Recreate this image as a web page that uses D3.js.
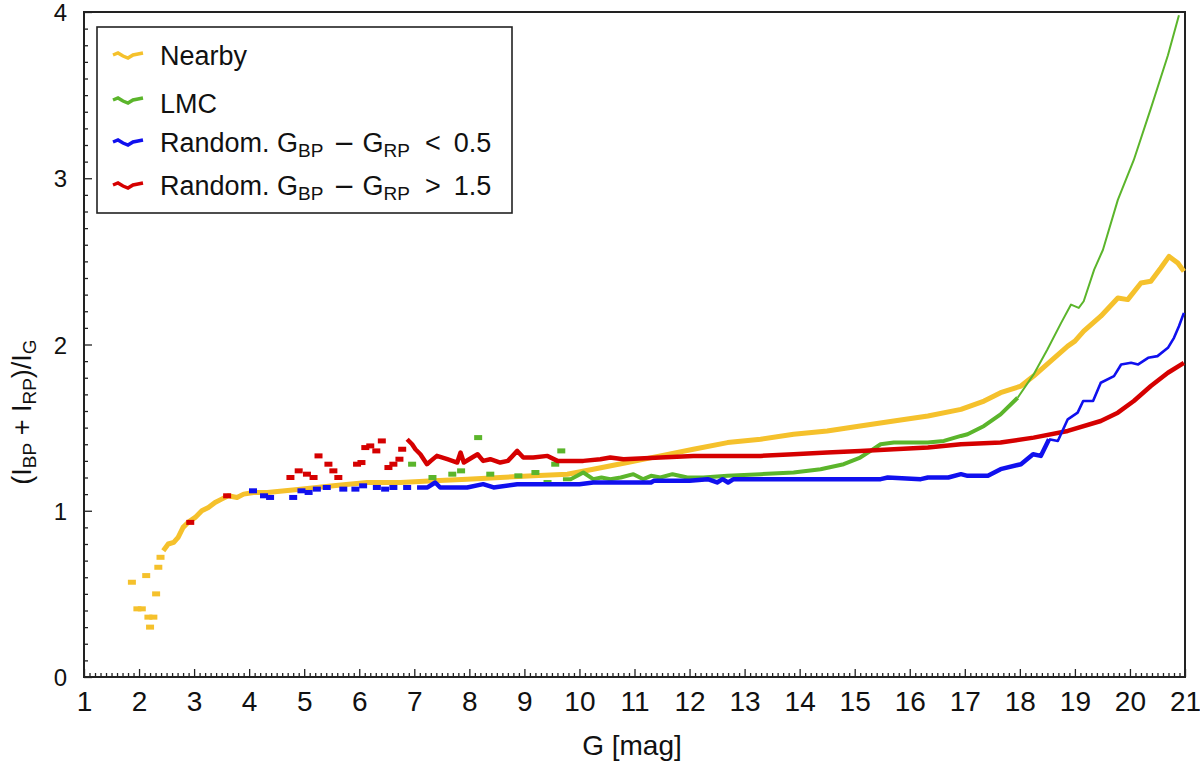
<!DOCTYPE html>
<html><head><meta charset="utf-8">
<script src="https://cdn.jsdelivr.net/npm/d3@7/dist/d3.min.js"></script>
<style>
html,body{margin:0;padding:0;background:#fff;}
svg text{font-family:"Liberation Sans","Open Sans",sans-serif;fill:#111;}
</style></head>
<body><svg id="c" width="1200" height="766"></svg>
<script>
// ---------- data ----------
const xTickLabels = ["1","2","3","4","5","6","7","8","9","10","11","12","13","14","15","16","17","18","19","20","21"];
const yTickLabels = ["0","1","2","3","4"];
const seriesNames = ["Nearby","LMC","Random. G_BP \u2212 G_RP \u2009<\u2009 0.5","Random. G_BP \u2212 G_RP \u2009>\u2009 1.5"];

// Nearby (yellow)
const nearbyDotG = [1.87,1.97,2.05,2.13,2.17,2.26,2.20,2.31,2.35,2.39];
const nearbyDotV = [0.57,0.41,0.41,0.61,0.36,0.36,0.30,0.50,0.66,0.72];
const nearbyG = [2.44,2.53,2.63,2.71,2.80,2.89,3.02,3.14,3.26,3.38,3.50,3.62,3.78,3.90,4.08,4.33,4.93,5.53,6.14,6.75,7.35,7.96,8.56,9.16,9.78,10.25,10.87,11.47,12.07,12.69,13.29,13.89,14.50,15.10,15.71,16.33,16.93,17.35,17.65,18.02,18.25,18.56,18.87,19.00,19.16,19.47,19.78,19.96,20.20,20.38,20.56,20.71,20.87,20.98];
const nearbyV = [0.76,0.80,0.81,0.84,0.90,0.93,0.96,1.00,1.02,1.05,1.07,1.09,1.08,1.10,1.11,1.11,1.13,1.15,1.17,1.17,1.18,1.19,1.20,1.21,1.22,1.25,1.29,1.33,1.37,1.41,1.43,1.46,1.48,1.51,1.54,1.57,1.61,1.66,1.71,1.75,1.81,1.90,1.99,2.02,2.08,2.17,2.28,2.27,2.37,2.38,2.46,2.53,2.49,2.44];

// LMC (green)
const lmcDotG = [6.96,7.33,7.69,7.85,8.16,8.38,8.89,9.20,9.42,9.56,9.67];
const lmcDotV = [1.28,1.20,1.22,1.24,1.44,1.22,1.21,1.23,1.17,1.28,1.36];
const lmcG = [9.70,9.84,9.96,10.07,10.25,10.40,10.56,10.75,10.98,11.16,11.30,11.47,11.69,11.96,12.25,12.69,13.29,13.89,14.38,14.80,15.10,15.29,15.47,15.71,16.33,16.62,16.93,17.05,17.35,17.65,17.96,18.25,18.50,18.75,18.93,19.07,19.16,19.35,19.51,19.78,20.07,20.38,20.69,20.89];
const lmcV = [1.19,1.19,1.21,1.23,1.19,1.20,1.19,1.20,1.22,1.19,1.21,1.20,1.22,1.20,1.20,1.21,1.22,1.23,1.25,1.28,1.32,1.36,1.40,1.41,1.41,1.42,1.45,1.46,1.51,1.58,1.68,1.82,1.97,2.13,2.24,2.22,2.26,2.45,2.57,2.87,3.11,3.42,3.74,3.98];

// Random, G_BP - G_RP < 0.5 (blue)
const blueDotG = [4.07,4.27,4.38,4.80,4.95,5.08,5.23,5.41,5.71,5.93,6.07,6.32,6.47,6.62,6.87];
const blueDotV = [1.12,1.09,1.08,1.08,1.12,1.11,1.13,1.14,1.13,1.13,1.15,1.14,1.13,1.14,1.14];
const blueG = [7.05,7.24,7.38,7.47,7.70,7.96,8.25,8.44,8.87,9.20,9.65,10.00,10.25,11.00,11.30,11.35,12.00,12.33,12.50,12.60,12.70,12.80,13.50,14.50,15.47,15.60,16.20,16.33,16.70,16.93,17.05,17.42,17.65,18.02,18.24,18.38,18.47,18.53,18.69,18.87,19.05,19.15,19.33,19.47,19.71,19.84,20.02,20.15,20.33,20.50,20.69,20.80,20.89,20.98];
const blueV = [1.14,1.14,1.17,1.14,1.14,1.14,1.16,1.14,1.16,1.16,1.16,1.16,1.17,1.17,1.17,1.18,1.18,1.19,1.17,1.19,1.17,1.19,1.19,1.19,1.19,1.20,1.19,1.20,1.20,1.22,1.21,1.21,1.25,1.28,1.34,1.33,1.39,1.43,1.42,1.55,1.59,1.66,1.66,1.77,1.81,1.88,1.89,1.88,1.92,1.93,1.98,2.04,2.11,2.19];

// Random, G_BP - G_RP > 1.5 (red)
const redDotG = [2.93,3.60,4.75,4.90,5.05,5.17,5.26,5.44,5.53,5.62,5.96,6.04,6.11,6.20,6.31,6.41,6.53,6.62,6.73,6.78];
const redDotV = [0.93,1.09,1.20,1.24,1.22,1.20,1.33,1.28,1.24,1.20,1.28,1.29,1.38,1.39,1.36,1.42,1.26,1.28,1.31,1.37];
const redG = [6.87,6.96,7.02,7.11,7.23,7.30,7.41,7.60,7.78,7.84,7.90,8.05,8.15,8.25,8.38,8.56,8.70,8.87,8.98,9.16,9.42,9.60,9.78,10.07,10.38,10.56,10.80,11.47,12.07,12.69,13.29,13.89,14.50,15.10,15.71,16.33,16.93,17.65,18.25,18.87,19.47,19.78,20.07,20.38,20.69,20.98];
const redV = [1.43,1.40,1.37,1.34,1.28,1.30,1.33,1.31,1.29,1.35,1.29,1.32,1.34,1.30,1.31,1.29,1.30,1.36,1.32,1.32,1.33,1.30,1.30,1.30,1.31,1.32,1.31,1.32,1.33,1.33,1.33,1.34,1.35,1.36,1.37,1.38,1.40,1.41,1.44,1.48,1.54,1.59,1.66,1.75,1.83,1.89];

// ---------- layout ----------
const svg = d3.select("#c");
const L = 84, R = 1185, T = 12, B = 677;
const x = d3.scaleLinear().domain([1, 21]).range([L, R]);
const y = d3.scaleLinear().domain([0, 4]).range([B, T]);
const colors = {nearby:"#f5c12c", lmc:"#5bb52b", blue:"#1010ee", red:"#d50000"};

// axes: minor ticks
const xMinor = d3.range(10, 211).map(d => d / 10).filter(d => Math.abs(d - Math.round(d)) > 1e-6);
const yMinor = d3.range(0, 41).map(d => d / 10).filter(d => Math.abs(d - Math.round(d)) > 1e-6);

const narrow = "'Liberation Sans Narrow','Liberation Sans',sans-serif";
const gx = svg.append("g").attr("transform", `translate(0,${B})`);
gx.call(d3.axisBottom(x).tickValues(xMinor).tickSize(-4).tickFormat(""));
gx.append("g").call(d3.axisBottom(x).tickValues(xTickLabels.map(Number)).tickSize(-8).tickFormat((d,i)=>xTickLabels[i]).tickPadding(14));
gx.selectAll("path.domain").remove();
gx.selectAll("line").attr("stroke", "#222").attr("stroke-width", 1.3);
gx.selectAll("text").attr("font-size", 28).attr("fill", "#111").style("font-family", narrow).attr("dy", "0.72em");

const gy = svg.append("g").attr("transform", `translate(${L},0)`);
gy.call(d3.axisLeft(y).tickValues(yMinor).tickSize(-4).tickFormat(""));
gy.append("g").call(d3.axisLeft(y).tickValues(yTickLabels.map(Number)).tickSize(-8).tickFormat((d,i)=>yTickLabels[i]).tickPadding(17));
gy.selectAll("path.domain").remove();
gy.selectAll("line").attr("stroke", "#222").attr("stroke-width", 1.3);
gy.selectAll("text").attr("font-size", 24).attr("fill", "#111").attr("dy", "0.36em");

// frame
svg.append("rect").attr("x", L).attr("y", T).attr("width", R - L).attr("height", B - T)
  .attr("fill", "none").attr("stroke", "#222").attr("stroke-width", 2);

// ---------- marks ----------
const plot = svg.append("g");
const line = d3.line().x(d => x(d[0])).y(d => y(d[1]));
const zip = (a, b) => a.map((g, i) => [g, b[i]]);

function drawSeries(dotG, dotV, G, V, col, w, thinFrom, thinW) {
  const g = plot.append("g");
  const pts = zip(G, V);
  let k = pts.length;
  if (thinFrom) { k = pts.findIndex(p => p[0] > thinFrom); if (k < 0) k = pts.length; }
  const thick = pts.slice(0, k);
  g.append("path").attr("d", line(thick)).attr("fill", "none").attr("stroke", col)
    .attr("stroke-width", w).attr("stroke-linejoin", "round");
  if (k < pts.length) {
    const thin = pts.slice(Math.max(k - 1, 0));
    g.append("path").attr("d", line(thin)).attr("fill", "none").attr("stroke", col)
      .attr("stroke-width", thinW).attr("stroke-linejoin", "round");
  }
  g.selectAll("rect").data(zip(dotG, dotV)).join("rect")
    .attr("x", d => x(d[0]) - 4).attr("y", d => y(d[1]) - 2.5)
    .attr("width", 8).attr("height", 5).attr("fill", col);
}
drawSeries(nearbyDotG, nearbyDotV, nearbyG, nearbyV, colors.nearby, 5, null, 0);
drawSeries(lmcDotG, lmcDotV, lmcG, lmcV, colors.lmc, 4, 17.96, 2);
drawSeries(redDotG, redDotV, redG, redV, colors.red, 4.5, null, 0);
drawSeries(blueDotG, blueDotV, blueG, blueV, colors.blue, 4.5, 18.53, 2.6);

// ---------- legend ----------
const lg = svg.append("g");
lg.append("rect").attr("x", 97).attr("y", 27).attr("width", 415).attr("height", 186)
  .attr("fill", "#fff").attr("stroke", "#222").attr("stroke-width", 1.6);
const wave = [[0,0],[5,-2],[10,1],[15,3],[20,0],[25,-1],[30,-2]];
const legRows = [
  {c: colors.nearby, ly: 55, ty: 65},
  {c: colors.lmc, ly: 100, ty: 113},
  {c: colors.blue, ly: 142, ty: 152},
  {c: colors.red, ly: 185, ty: 195}
];
const wline = d3.line().x(d => d[0]).y(d => d[1]);
legRows.forEach((r, i) => {
  lg.append("path").attr("d", wline(wave)).attr("transform", `translate(113,${r.ly})`)
    .attr("fill", "none").attr("stroke", r.c).attr("stroke-width", 3.5);
  const t = lg.append("text").attr("x", 160).attr("y", r.ty).attr("font-size", 27);
  const name = seriesNames[i];
  const parts = name.split(/(_BP|_RP|\u2212)/);
  parts.forEach(p => {
    if (p === "_BP" || p === "_RP") {
      t.append("tspan").text(p.slice(1)).attr("font-size", 19).attr("dy", 5);
      t.append("tspan").text("\u200A").attr("dy", -5);
    } else if (p === "\u2212") {
      t.append("tspan").text(p).style("font-family", "'DejaVu Sans',sans-serif").attr("font-size", 26);
    } else {
      t.append("tspan").text(p);
    }
  });
});

// ---------- axis titles ----------
svg.append("text").attr("x", 632).attr("y", 755).attr("text-anchor", "middle")
  .attr("font-size", 28).style("font-family", narrow).text("G [mag]");

const yl = svg.append("text").attr("transform", "translate(31,412) rotate(-90)")
  .attr("text-anchor", "middle").attr("font-size", 27);
[["(I",0],["BP",1],[" + I",0],["RP",1],[")/I",0],["G",1]].forEach(([s, sub]) => {
  if (sub) { yl.append("tspan").text(s).attr("font-size", 19).attr("dy", 5); }
  else { yl.append("tspan").text(s).attr("dy", s.startsWith("(") ? 0 : -5); }
});
</script></body></html>
